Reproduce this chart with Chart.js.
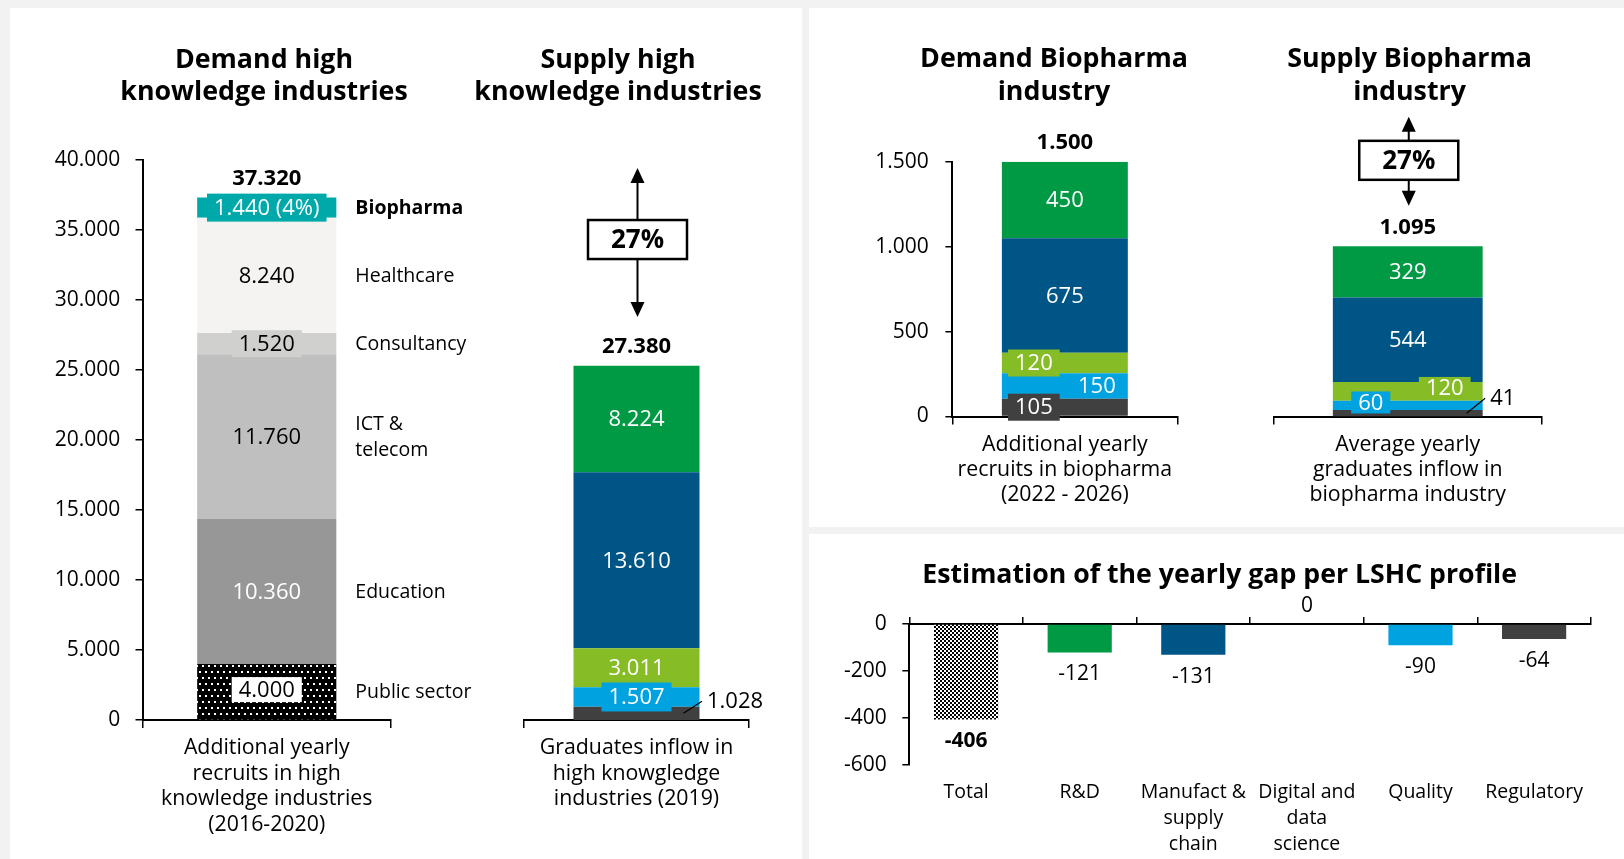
<!DOCTYPE html>
<html>
<head>
<meta charset="utf-8">
<script src="https://cdn.jsdelivr.net/npm/chart.js@4.4.1/dist/chart.umd.min.js"></script>
<style>
html, body { margin: 0; padding: 0; background: #f2f2f2; }
body { width: 1624px; height: 859px; position: relative; overflow: hidden; }
.panel { position: absolute; background: #fff; }
.holder { position: absolute; }
</style>
</head>
<body>
<div class="panel" style="left:10px;top:8px;width:792px;height:851px"></div>
<div class="panel" style="left:809px;top:8px;width:815px;height:519px"></div>
<div class="panel" style="left:809px;top:534px;width:815px;height:325px"></div>

<div class="holder" style="left:30px;top:10px;width:468px;height:849px"><canvas id="demandHigh"></canvas></div>
<div class="holder" style="left:466px;top:10px;width:304px;height:849px"><canvas id="supplyHigh"></canvas></div>
<div class="holder" style="left:870px;top:10px;width:368px;height:515px"><canvas id="demandBio"></canvas></div>
<div class="holder" style="left:1260px;top:10px;width:299.2px;height:515px"><canvas id="supplyBio"></canvas></div>
<div class="holder" style="left:840px;top:536px;width:759.2px;height:323px"><canvas id="gap"></canvas></div>

<script>
// ---- data (stacks are listed bottom -> top) ----
const demandSectors = ['Public sector', 'Education', ['ICT &', 'telecom'], 'Consultancy', 'Healthcare', 'Biopharma'];
const demandValues = [4000, 10360, 11760, 1520, 8240, 1440];
const demandTotal = 37320;
const demandCategory = [['Additional yearly', 'recruits in high', 'knowledge industries', '(2016-2020)']];

const supplyValues = [1028, 1507, 3011, 13610, 8224];
const supplyTotal = 27380;
const supplyCategory = [['Graduates inflow in', 'high knowgledge', 'industries (2019)']];

// biopharma profiles: Regulatory, Quality, Digital & data, Manufact & supply, R&D
const bioDemandValues = [105, 150, 120, 675, 450];
const bioDemandTotal = 1500;
const bioDemandCategory = [['Additional yearly', 'recruits in biopharma', '(2022 - 2026)']];

const bioSupplyValues = [41, 60, 120, 544, 329];
const bioSupplyTotal = 1095;
const bioSupplyCategory = [['Average yearly', 'graduates inflow in', 'biopharma industry']];

const gapProfiles = ['Total', 'R&D', ['Manufact &', 'supply', 'chain'], ['Digital and', 'data', 'science'], 'Quality', 'Regulatory'];
const gapValues = [-406, -121, -131, 0, -90, -64];

const gapShare = '27%';

// ---- helpers ----
const FAMILY = "'Open Sans', sans-serif";
Chart.defaults.font.family = FAMILY;
Chart.defaults.color = '#000';
const fmt = v => String(v).replace(/\B(?=(\d{3})+(?!\d))/g, '.');
const font = (size, bold) => (bold ? 'bold ' : '') + size + 'px ' + FAMILY;

function makePattern(w, h, bg, fg, dots) {
  const c = document.createElement('canvas');
  c.width = w; c.height = h;
  const x = c.getContext('2d');
  x.fillStyle = bg; x.fillRect(0, 0, w, h);
  x.fillStyle = fg;
  dots.forEach(d => x.fillRect(d[0], d[1], d[2], d[3]));
  return x.createPattern(c, 'repeat');
}
const dotted = makePattern(6, 12, '#000', '#fff', [[1, 1, 2, 2], [4, 7, 2, 2]]);
const checker = makePattern(4, 4, '#fff', '#000', [[0, 0, 2, 2], [2, 2, 2, 2]]);

const greyColors = [dotted, '#979797', '#bfbfbf', '#d0d0ce', '#f4f3f1', '#00a9a9'];
const profileColors = ['#404040', '#00a3e0', '#86bc25', '#005587', '#009a44'];

// labels inside / beside stacked bars, totals, and the gap arrow
const stackText = {
  id: 'stackText',
  afterDatasetsDraw(chart, args, o) {
    const ctx = chart.ctx, area = chart.chartArea;
    ctx.save();
    ctx.textBaseline = 'middle';
    let topY = Infinity, cx0 = 0;
    chart.data.datasets.forEach((ds, i) => {
      const bar = chart.getDatasetMeta(i).data[0];
      const v = ds.data[0];
      const st = (o.items && o.items[i]) || {};
      const right = bar.x + bar.width / 2;
      const cy = (bar.y + bar.base) / 2;
      cx0 = bar.x;
      topY = Math.min(topY, bar.y);
      let txt = fmt(v);
      if (st.share) txt += ' (' + Math.round(v / o.total * 100) + '%)';
      ctx.font = font(o.size);
      if (st.callout) {
        ctx.strokeStyle = '#000'; ctx.lineWidth = 1.2;
        ctx.beginPath();
        ctx.moveTo(right - 16, cy);
        ctx.lineTo(right + 2.5, cy - st.callout);
        ctx.stroke();
        ctx.fillStyle = '#000'; ctx.textAlign = 'left';
        ctx.fillText(txt, right + 7.5, cy - st.callout);
      } else {
        const x = bar.x + (st.dx || 0), y = cy + (st.dy || 0);
        const w = ctx.measureText(txt).width;
        if (st.bg) {
          const h = st.h || 27;
          ctx.fillStyle = st.bg;
          ctx.fillRect(x - w / 2 - 7, y - h / 2, w + 14, h);
        }
        ctx.fillStyle = st.color || '#fff'; ctx.textAlign = 'center';
        ctx.fillText(txt, x, y + 1);
      }
      if (o.names) {
        const name = [].concat(o.names[i]);
        ctx.font = font(19.5, st.boldName);
        ctx.fillStyle = '#000'; ctx.textAlign = 'left';
        name.forEach((line, k) => ctx.fillText(line, right + 19, cy + 1 + (k - (name.length - 1) / 2) * 25.5));
      }
    });
    ctx.font = font(22, true);
    ctx.fillStyle = '#000'; ctx.textAlign = 'center';
    ctx.fillText(fmt(o.total), cx0, topY - 19);

    const a = o.arrow;
    if (a) {
      const x = cx0 + 1, y1 = area.top + a.top, y2 = area.top + a.bottom;
      ctx.strokeStyle = '#000'; ctx.fillStyle = '#000'; ctx.lineWidth = 2;
      ctx.beginPath(); ctx.moveTo(x, y1 + 10); ctx.lineTo(x, y2 - 10); ctx.stroke();
      ctx.beginPath(); ctx.moveTo(x, y1); ctx.lineTo(x - 7, y1 + 15); ctx.lineTo(x + 7, y1 + 15); ctx.closePath(); ctx.fill();
      ctx.beginPath(); ctx.moveTo(x, y2); ctx.lineTo(x - 7, y2 - 15); ctx.lineTo(x + 7, y2 - 15); ctx.closePath(); ctx.fill();
      const bt = area.top + a.boxTop, bh = a.boxBottom - a.boxTop;
      ctx.fillStyle = '#fff';
      ctx.fillRect(x - a.w / 2, bt, a.w, bh);
      ctx.lineWidth = 2.5;
      ctx.strokeRect(x - a.w / 2, bt, a.w, bh);
      ctx.fillStyle = '#000';
      ctx.font = font(26, true);
      ctx.fillText(a.text, x, bt + bh / 2 + 1);
    }
    ctx.restore();
  }
};

// value labels under (or above) the gap bars
const gapText = {
  id: 'gapText',
  afterDatasetsDraw(chart, args, o) {
    const ctx = chart.ctx;
    ctx.save();
    ctx.textAlign = 'center'; ctx.textBaseline = 'middle'; ctx.fillStyle = '#000';
    chart.getDatasetMeta(0).data.forEach((bar, j) => {
      const v = chart.data.datasets[0].data[j];
      ctx.font = font(21, j === 0);
      ctx.fillText(fmt(v), bar.x, v < 0 ? bar.y + 22 : bar.y - 18);
    });
    ctx.restore();
  }
};

function stackedChart(id, cfg) {
  const datasets = cfg.values.map((v, i) => ({
    data: [v],
    backgroundColor: cfg.colors[i],
    barPercentage: 0.56,
    categoryPercentage: 1
  }));
  const axisY = cfg.showY ? {
    display: true, stacked: true, min: 0, max: cfg.max,
    ticks: { stepSize: cfg.step, padding: cfg.tickPad, font: { size: 21 }, color: '#000', callback: v => fmt(v) },
    grid: { drawOnChartArea: false, drawTicks: true, tickLength: 7, color: '#000', lineWidth: 1.5 },
    border: { display: true, color: '#000', width: 2 },
    afterFit: s => { s.width = cfg.left; }
  } : {
    display: true, stacked: true, min: 0, max: cfg.max,
    ticks: { display: false }, grid: { display: false }, border: { display: false },
    afterFit: s => { s.width = cfg.left; }
  };
  return new Chart(document.getElementById(id), {
    type: 'bar',
    data: { labels: cfg.category, datasets },
    plugins: [stackText],
    options: {
      responsive: true, maintainAspectRatio: false, animation: false,
      layout: { padding: 0 },
      scales: {
        x: {
          stacked: true,
          ticks: { padding: cfg.xPad, font: { size: 21.3, lineHeight: cfg.xLine }, color: '#000', maxRotation: 0 },
          grid: { offset: true, drawOnChartArea: false, drawTicks: true, tickLength: 8, color: '#000', lineWidth: 1.5 },
          border: { display: true, color: '#000', width: 2 },
          afterFit: s => { s.height = cfg.bottom; }
        },
        y: axisY,
        pad: {
          type: 'linear', position: 'right', display: true,
          ticks: { display: false }, grid: { display: false }, border: { display: false },
          afterFit: s => { s.width = cfg.right; }
        }
      },
      plugins: {
        legend: { display: false },
        tooltip: { enabled: false },
        title: {
          display: true, text: cfg.title, color: '#000',
          font: { size: 26.8, weight: 'bold', lineHeight: 1.23 },
          padding: { top: cfg.titleTop, bottom: cfg.titleBottom }
        },
        stackText: { items: cfg.items, total: cfg.total, size: 22, names: cfg.names, arrow: cfg.arrow }
      }
    }
  });
}

stackedChart('demandHigh', {
  title: ['Demand high', 'knowledge industries'],
  category: demandCategory, values: demandValues, colors: greyColors,
  total: demandTotal, names: demandSectors,
  showY: true, max: 40000, step: 5000, tickPad: 15.3,
  left: 112.5, right: 107, bottom: 139, xPad: 7.3, xLine: 25.5 / 21.3,
  titleTop: 33.4, titleBottom: 50.7,
  items: [
    { color: '#000', bg: '#fff', h: 25, dy: -2 },
    { color: '#fff' },
    { color: '#000' },
    { color: '#000', bg: '#d0d0ce' },
    { color: '#000' },
    { color: '#fff', bg: '#00a9a9', share: true, h: 28, boldName: true }
  ]
});

stackedChart('supplyHigh', {
  title: ['Supply high', 'knowledge industries'],
  category: supplyCategory, values: supplyValues, colors: profileColors,
  total: supplyTotal,
  showY: false, max: 43290,
  left: 58, right: 21, bottom: 139, xPad: 7.3, xLine: 25.5 / 21.3,
  titleTop: 33.4, titleBottom: 50.7,
  arrow: { top: 8, bottom: 157, boxTop: 60, boxBottom: 99, w: 99, text: gapShare },
  items: [
    { callout: 12 },
    { color: '#fff', bg: '#00a3e0', h: 29 },
    { color: '#fff' },
    { color: '#fff' },
    { color: '#fff' }
  ]
});

stackedChart('demandBio', {
  title: ['Demand Biopharma', 'industry'],
  category: bioDemandCategory, values: bioDemandValues, colors: profileColors,
  total: bioDemandTotal,
  showY: true, max: 1500, step: 500, tickPad: 16.7,
  left: 82.4, right: 60.7, bottom: 108.5, xPad: 8, xLine: 25 / 21.3,
  titleTop: 32.8, titleBottom: 53.1,
  items: [
    { color: '#fff', bg: '#404040', dx: -31 },
    { color: '#fff', dx: 32 },
    { color: '#fff', bg: '#86bc25', dx: -31 },
    { color: '#fff' },
    { color: '#fff' }
  ]
});

stackedChart('supplyBio', {
  title: ['Supply Biopharma', 'industry'],
  category: bioSupplyCategory, values: bioSupplyValues, colors: profileColors,
  total: bioSupplyTotal,
  showY: false, max: 1637,
  left: 14, right: 17.7, bottom: 108.5, xPad: 8, xLine: 25 / 21.3,
  titleTop: 32.8, titleBottom: 53.1,
  arrow: { top: -45, bottom: 44, boxTop: -21, boxBottom: 18, w: 99, text: gapShare },
  items: [
    { callout: 15 },
    { color: '#fff', bg: '#00a3e0', dx: -37, dy: -3, h: 22 },
    { color: '#fff', bg: '#86bc25', dx: 37, dy: -4, h: 21 },
    { color: '#fff' },
    { color: '#fff' }
  ]
});

new Chart(document.getElementById('gap'), {
  type: 'bar',
  data: {
    labels: gapProfiles,
    datasets: [{
      data: gapValues,
      backgroundColor: [checker].concat(profileColors.slice().reverse()),
      barPercentage: 0.565,
      categoryPercentage: 1
    }]
  },
  plugins: [gapText],
  options: {
    responsive: true, maintainAspectRatio: false, animation: false,
    layout: { padding: 0 },
    scales: {
      x: {
        ticks: { padding: 14.5, font: { size: 19.5, lineHeight: 26 / 19.5 }, color: '#000', maxRotation: 0, autoSkip: false },
        grid: { display: false, drawTicks: false },
        border: { display: false },
        afterFit: s => { s.height = 94; }
      },
      zero: {
        type: 'category', position: 'top', offset: true,
        ticks: { display: false },
        grid: { offset: true, drawOnChartArea: false, drawTicks: true, tickLength: 7, color: '#000', lineWidth: 1.5 },
        border: { display: true, color: '#000', width: 2 },
        afterFit: s => { s.height = 7; }
      },
      y: {
        min: -600, max: 0,
        ticks: { stepSize: 200, padding: 15.6, font: { size: 21 }, color: '#000' },
        grid: { drawOnChartArea: false, drawTicks: true, tickLength: 7, color: '#000', lineWidth: 1.5 },
        border: { display: true, color: '#000', width: 2 },
        afterFit: s => { s.width = 69.3; }
      },
      pad: {
        type: 'linear', position: 'right', display: true,
        ticks: { display: false }, grid: { display: false }, border: { display: false },
        afterFit: s => { s.width = 8.3; }
      }
    },
    plugins: {
      legend: { display: false },
      tooltip: { enabled: false },
      title: {
        display: true, text: 'Estimation of the yearly gap per LSHC profile', color: '#000',
        font: { size: 26.7, weight: 'bold', lineHeight: 1.2 },
        padding: { top: 23.7, bottom: 25.3 }
      }
    }
  }
});
</script>
</body>
</html>
